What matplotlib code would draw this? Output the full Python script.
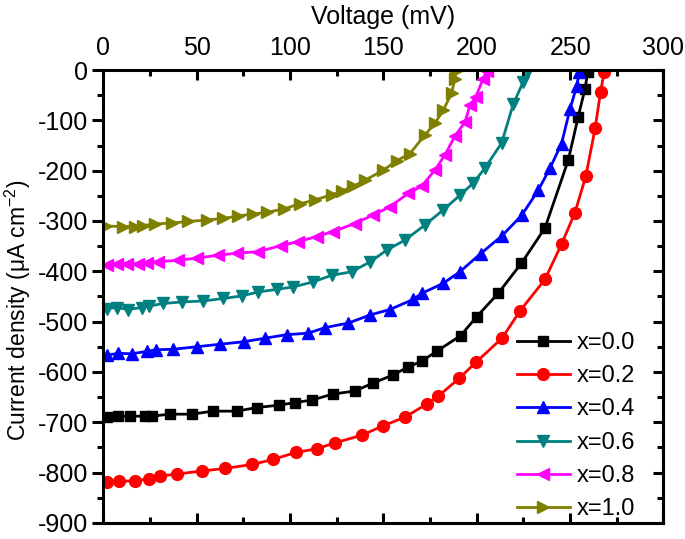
import numpy as np
import matplotlib
matplotlib.use("Agg")
import matplotlib.pyplot as plt
from matplotlib.ticker import MultipleLocator

# ------------------------------------------------------------
# Data (voltage in mV, current in uA cm^-2)
# ------------------------------------------------------------
v_00 = [1.7, 7.9, 14.2, 22.2, 25.8, 35.6, 47.2, 58.8, 71.3, 82, 94, 102.6, 111.5, 123,
        134.7, 144.5, 155.2, 163.3, 170.4, 178.5, 191.3, 200, 211.4, 223.9, 236.5, 249,
        254.3, 257.9, 259.5]
j_00 = [-689, -688, -688, -688, -688, -684, -684, -678, -678, -671, -666, -661, -656, -644,
        -638, -622, -606, -590, -579, -559, -528, -490, -444, -384, -314, -179,
        -93, -38, -3]

v_02 = [1.7, 8.4, 16.9, 24.5, 30.3, 39.5, 52.6, 65.1, 79.4, 91, 103, 114.2, 124, 138.3,
        149.9, 161.5, 173.1, 179.4, 190.5, 199.5, 213.5, 223.1, 236.5, 245.4, 252.5,
        258.4, 263.4, 266.3, 268.3]
j_02 = [-818, -817, -817, -812, -807, -803, -797, -792, -784, -774, -760, -753, -741, -726,
        -707, -690, -664, -648, -613, -581, -533, -479, -416, -346, -284,
        -211, -115, -43, -3]

v_04 = [1.7, 7.9, 15.1, 23.5, 28.1, 37.4, 49.9, 62.4, 75.3, 86.5, 98.1, 109.7, 118.6,
        131.1, 142.7, 153.4, 165.9, 170.4, 182, 190.9, 202, 213.3, 224, 232.9, 239.2,
        245.4, 249.9, 253.5, 255]
j_04 = [-567, -563, -564, -559, -556, -555, -550, -545, -540, -533, -526, -523, -512,
        -503, -487, -476, -456, -444, -424, -401, -365, -330, -289, -239, -195,
        -146, -78, -32, -3]

v_06 = [1.7, 7.3, 13.2, 20.4, 24.5, 32, 41.9, 53.5, 64.2, 74, 82.9, 92.8, 101.7, 112.4,
        122.2, 132.9, 143, 151.7, 161.5, 172.2, 182, 190.9, 198, 204.3, 213.3, 219.5,
        224.9, 227.5]
j_06 = [-474, -472, -476, -472, -469, -464, -461, -459, -454, -449, -441, -436, -431, -421,
        -408, -401, -381, -358, -338, -308, -278, -249, -225, -195, -145, -68,
        -23, -2]

v_08 = [1.7, 7.1, 12.4, 18.6, 23.5, 29.4, 40.1, 49.9, 61.5, 71.3, 82.9, 95, 104.4, 114.2,
        123, 134.7, 144.5, 153.4, 163.3, 170.4, 177.5, 182.9, 188.3, 193.7, 196.3, 199.5,
        203.4, 205.5]
j_08 = [-388, -386, -386, -385, -383, -381, -378, -374, -368, -364, -361, -349, -341, -331,
        -321, -305, -288, -272, -245, -231, -199, -169, -131, -103, -70, -53,
        -17, -1]

v_10 = [1.5, 10.6, 16.9, 21.3, 27.6, 36.5, 45.4, 55.3, 64.2, 72.2, 80.2, 87.4, 96.5,
        105.2, 113.3, 122.2, 127.6, 133.8, 140.1, 149.9, 157.2, 164.2, 172.2, 177.5, 182,
        186.5, 188.3, 189]
j_10 = [-310, -311, -311, -309, -306, -304, -301, -298, -295, -290, -286, -283, -276,
        -266, -258, -248, -241, -231, -219, -199, -180, -166, -129, -106, -80,
        -46, -17, -1]

labels = ["x=0.0", "x=0.2", "x=0.4", "x=0.6", "x=0.8", "x=1.0"]

plt.rcParams["font.family"] = ["Liberation Sans", "DejaVu Sans"]
plt.rcParams["mathtext.fontset"] = "custom"
plt.rcParams["mathtext.rm"] = "Liberation Sans"
plt.rcParams["mathtext.default"] = "regular"
plt.rcParams["axes.unicode_minus"] = False

# ------------------------------------------------------------
# Figure
# ------------------------------------------------------------
fig = plt.figure(figsize=(6.85, 5.39), dpi=100)
ax = fig.add_axes([0.151, 0.030, 0.8176, 0.840])

series = [
    (v_00, j_00, "black", "s", 7),
    (v_02, j_02, "red", "o", 8.5),
    (v_04, j_04, "blue", "^", 9),
    (v_06, j_06, "#008080", "v", 9),
    (v_08, j_08, "magenta", "<", 9),
    (v_10, j_10, "#808000", ">", 9),
]
for (v, j, c, m, ms), lab in zip(series, labels):
    ax.plot(v, j, color=c, marker=m, markersize=ms, markeredgecolor=c,
            linewidth=2, label=lab)

ax.set_xlim(0, 300)
ax.set_ylim(-900, 0)
ax.xaxis.set_major_locator(MultipleLocator(50))
ax.xaxis.set_minor_locator(MultipleLocator(25))
ax.yaxis.set_major_locator(MultipleLocator(100))
ax.yaxis.set_minor_locator(MultipleLocator(50))

# x axis: labels on top, ticks inward on both sides
ax.xaxis.set_label_position("top")
ax.tick_params(axis="x", which="both", direction="in", top=True, bottom=True,
               labeltop=True, labelbottom=False, width=2.2, labelsize=18, pad=7)
ax.tick_params(axis="x", which="major", length=7)
ax.tick_params(axis="x", which="minor", length=4)

# y axis: left ticks outward, right ticks inward
ax.tick_params(axis="y", which="both", direction="out", left=True, right=False,
               width=2.2, labelsize=18, pad=3)
ax.tick_params(axis="y", which="major", length=8)
ax.tick_params(axis="y", which="minor", length=4.5)

sec = ax.secondary_yaxis("right")
sec.yaxis.set_major_locator(MultipleLocator(100))
sec.yaxis.set_minor_locator(MultipleLocator(50))
sec.tick_params(which="both", direction="in", labelright=False, width=2.2)
sec.tick_params(which="major", length=7)
sec.tick_params(which="minor", length=4)
sec.spines["right"].set_linewidth(2.2)

for s in ax.spines.values():
    s.set_linewidth(2.2)

ax.set_xlabel("Voltage (mV)", fontsize=18, labelpad=9)
ax.set_ylabel("Current density (μA cm$^{-2}$)", fontsize=16.5, labelpad=6)
ax.yaxis.set_label_coords(-0.125, 0.47)

ax.legend(loc="lower right", bbox_to_anchor=(0.975, -0.026), frameon=False,
          fontsize=17, handlelength=2.25, handletextpad=0.3, labelspacing=0.48,
          borderaxespad=0.2)

fig.savefig("out.png", dpi=100)
